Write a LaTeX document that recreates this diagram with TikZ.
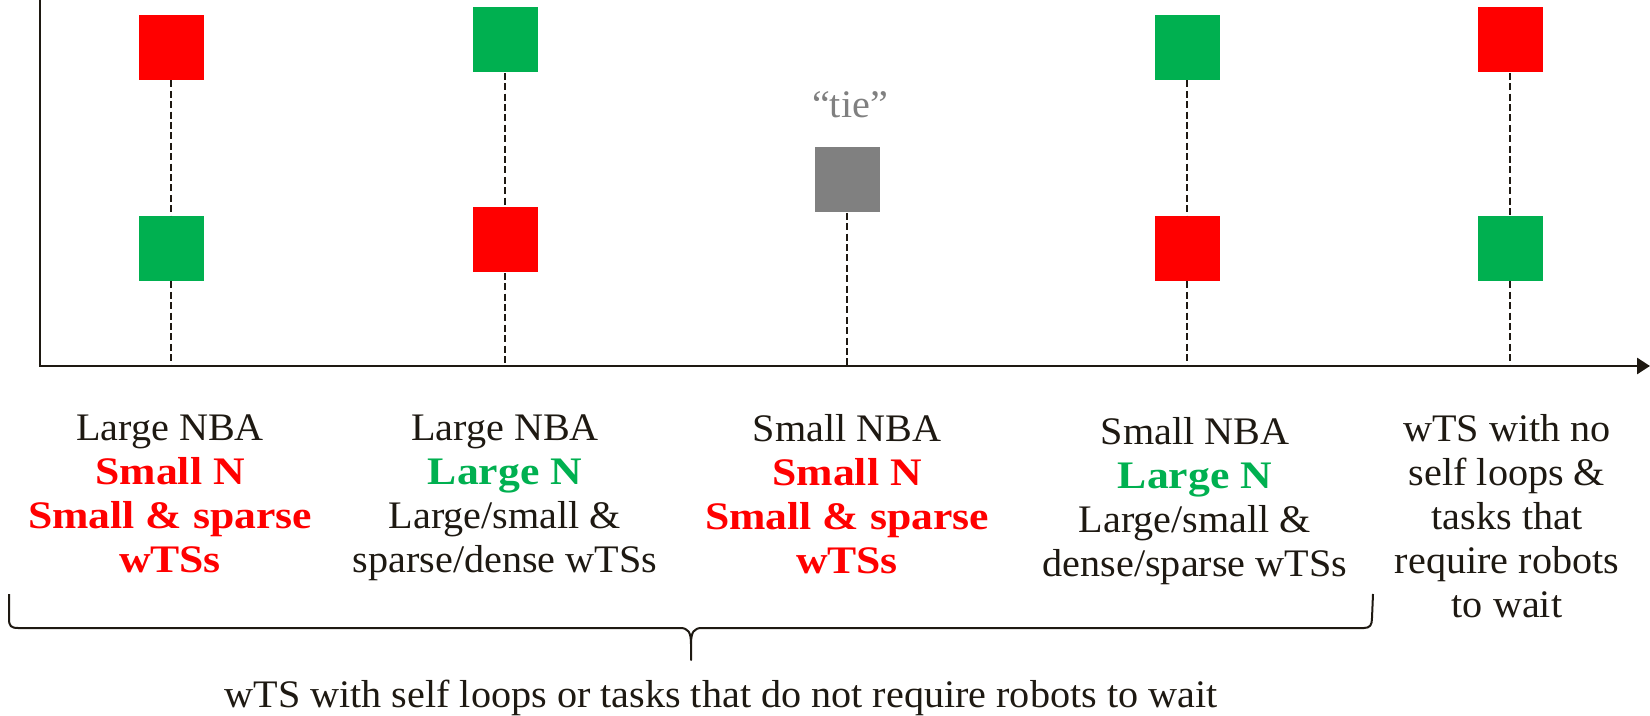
\documentclass[tikz,border=0pt]{standalone}
\usepackage{fontspec}
\setmainfont{Liberation Serif}[FakeStretch=1.03,BoldFeatures={FakeStretch=1.12}]
\usetikzlibrary{arrows.meta}
\definecolor{pred}{HTML}{FF0000}
\definecolor{pgreen}{HTML}{00B050}
\definecolor{pgray}{HTML}{808080}
\definecolor{ink}{HTML}{1E1912}
\newcommand{\redb}[1]{\textcolor{pred}{\textbf{#1}}}
\newcommand{\greenb}[1]{\textcolor{pgreen}{\textbf{#1}}}

\begin{document}
\begin{tikzpicture}[x=0.5pt,y=-0.5pt,
  sq/.style={minimum width=32.5pt,minimum height=32.5pt,inner sep=0pt,draw=none},
  redsq/.style={sq,fill=pred},
  greensq/.style={sq,fill=pgreen},
  graysq/.style={sq,fill=pgray},
  guide/.style={draw=ink,line width=1.35pt,dash pattern=on 3.5pt off 1.7pt},
  axisline/.style={draw=ink,line width=1.4pt},
  lbl/.style={align=center,font=\fontsize{19.5}{22}\selectfont,text=ink,anchor=north,inner sep=0pt},
]
\useasboundingbox (0,0) rectangle (1650,716);

% axes
\coordinate (ytop) at (40,0);
\coordinate (orig) at (40,366);
\coordinate (xend) at (1650,366);
\draw[axisline,-{Triangle[length=6.5pt,width=8pt]}] (ytop) -- (orig) -- (xend);

% feet of the guide lines on the horizontal axis
\coordinate (f1) at (171,366);
\coordinate (f2) at (505,366);
\coordinate (f3) at (847,366);
\coordinate (f4) at (1187,366);
\coordinate (f5) at (1510,366);

% markers
\node[redsq]   (t1) at (171,47.5) {};
\node[greensq] (b1) at (171,248.5) {};
\node[greensq] (t2) at (505,40) {};
\node[redsq]   (b2) at (505,240) {};
\node[graysq]  (g3) at (847,180) {};
\node[greensq] (t4) at (1187,47.5) {};
\node[redsq]   (b4) at (1187,248.5) {};
\node[redsq]   (t5) at (1510,40) {};
\node[greensq] (b5) at (1510,248.5) {};

% dashed guides
\draw[guide] (t1.south) -- (b1.north);
\draw[guide] (b1.south) -- (f1);
\draw[guide] (t2.south) -- (b2.north);
\draw[guide] (b2.south) -- (f2);
\draw[guide] (g3.south) -- (f3);
\draw[guide] (t4.south) -- (b4.north);
\draw[guide] (b4.south) -- (f4);
\draw[guide] (t5.south) -- (b5.north);
\draw[guide] (b5.south) -- (f5);

\node[font=\fontsize{19.5}{22}\selectfont,text=pgray,inner sep=0pt] (tie) at (850,105) {“tie”};

% column descriptions
\node[lbl] (l1) at (170,414) {Large NBA\\\redb{Small N}\\\redb{Small \& sparse}\\\redb{wTSs}};
\node[lbl] (l2) at (505,414) {Large NBA\\\greenb{Large N}\\Large/small \&\\sparse/dense wTSs};
\node[lbl] (l3) at (847,414) {Small NBA\\\redb{Small N}\\\redb{Small \& sparse}\\\redb{wTSs}};
\node[lbl] (l4) at (1195,417) {Small NBA\\\greenb{Large N}\\Large/small \&\\dense/sparse wTSs};
\node[lbl] (l5) at (1507,414) {wTS with no\\self loops \&\\tasks that\\require robots\\to wait};

% brace under the first four columns
\coordinate (bl) at (9,594);
\coordinate (br) at (1373,594);
\coordinate (tip) at (691,660);
\draw[draw=ink,line width=1pt,line join=round]
  (bl) -- (9,619) .. controls (9,626) and (11,628) .. (18,628)
  -- (680,628) .. controls (688,628) and (691,632) .. (691,644) -- (tip)
  -- (691,644) .. controls (691,632) and (694,628) .. (702,628)
  -- (1364,628) .. controls (1370,628) and (1372,625) .. (1372,618) -- (br);

\node[font=\fontsize{19.5}{22}\selectfont,text=ink,anchor=base,inner sep=0pt] (cap) at (721,707)
  {wTS with self loops or tasks that do not require robots to wait};
\end{tikzpicture}
\end{document}
